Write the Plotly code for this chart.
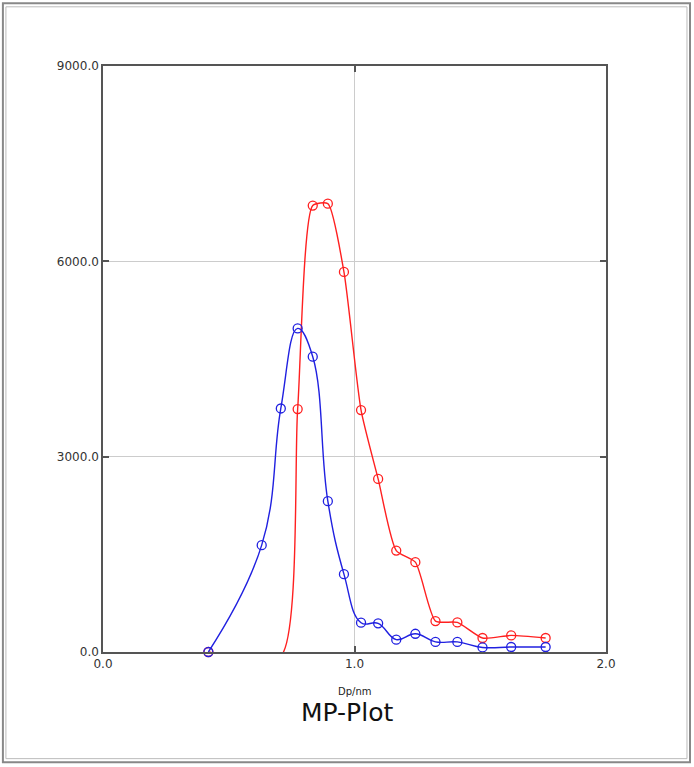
import plotly.graph_objects as go

# diameters (nm) and the two distributions
dp_blue = [0.419, 0.631, 0.707, 0.774, 0.834, 0.894, 0.958, 1.026,
           1.094, 1.166, 1.242, 1.322, 1.409, 1.509, 1.623, 1.760]
val_blue = [0, 1641, 3740, 4970, 4535, 2316, 1196, 450,
            440, 190, 280, 155, 155, 70, 77, 77]

dp_red = [0.419, 0.707, 0.774, 0.834, 0.894, 0.958, 1.026,
          1.094, 1.166, 1.242, 1.322, 1.409, 1.509, 1.623, 1.760]
val_red = [0, -60, 3731, 6856, 6886, 5837, 3716,
           2658, 1558, 1380, 475, 454, 215, 255, 215]

x_ticks = [0.0, 1.0, 2.0]
y_ticks = [0, 3000, 6000, 9000]

FONT = "DejaVu Sans"

fig = go.Figure()

for xs, ys, col, smooth in [(dp_red, val_red, "#ff2020", 0.6),
                            (dp_blue, val_blue, "#2020e0", 1.2)]:
    fig.add_trace(go.Scatter(
        x=xs, y=ys,
        mode="lines+markers",
        line=dict(color=col, width=1.4, shape="spline", smoothing=smooth),
        marker=dict(symbol="circle-open", size=9, color=col, line=dict(width=1.3)),
        cliponaxis=False,
        showlegend=False,
    ))

axis_common = dict(
    showline=True, linecolor="#555555", linewidth=1.5, mirror="ticks",
    ticks="inside", ticklen=6, tickcolor="#555555", tickwidth=1.5,
    showgrid=True, gridcolor="#cccccc", gridwidth=1,
    zeroline=False,
    tickfont=dict(family=FONT, size=12, color="#333333"),
)

fig.update_xaxes(range=[0, 2], tickvals=x_ticks,
                 ticktext=[f"{v:.1f}" for v in x_ticks], **axis_common)
fig.update_yaxes(range=[0, 9000], tickvals=y_ticks,
                 ticktext=[f"{v:.1f}" for v in y_ticks], **axis_common)

# labels under the plot
fig.add_annotation(text="Dp/nm", xref="paper", yref="paper", x=0.5, y=-0.08,
                   showarrow=False, font=dict(family=FONT, size=10, color="#222222"))
fig.add_annotation(text="MP-Plot", xref="paper", yref="paper", x=0.485, y=-0.131,
                   showarrow=False, font=dict(family=FONT, size=25, color="#111111"))

# outer double frame
fig.add_shape(type="rect", xref="paper", yref="paper",
              x0=-0.199, x1=1.167, y0=-0.188, y1=1.107,
              line=dict(color="#888888", width=2))
fig.add_shape(type="rect", xref="paper", yref="paper",
              x0=-0.193, x1=1.161, y0=-0.182, y1=1.101,
              line=dict(color="#bbbbbb", width=1))

fig.update_layout(
    width=694, height=767,
    margin=dict(l=103, r=88, t=66, b=115),
    plot_bgcolor="white", paper_bgcolor="white",
)

fig.write_html("out.html", config={"displayModeBar": False},
               post_script="document.body.style.margin='0';")
